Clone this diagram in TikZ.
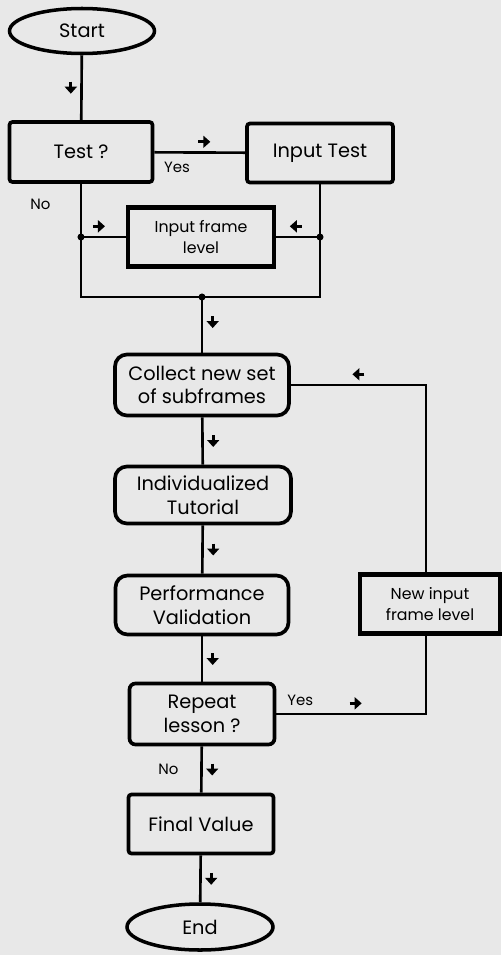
\documentclass[tikz,border=0pt]{standalone}
\usepackage{fontspec}
\setmainfont{Poppins}
\usepackage{tikz}
\usetikzlibrary{shapes.geometric,arrows.meta,calc}

\begin{document}
\begin{tikzpicture}[
  x=0.2mm, y=-0.2mm,
  line width=1.5pt,
  every node/.style={align=center, font=\fontsize{11}{13.5}\selectfont},
  term/.style={draw, ellipse, line width=2pt, inner sep=0pt, minimum width=29mm, minimum height=9mm},
  stepbox/.style={draw, line width=2.1pt, rounded corners=#1, minimum width=29mm, minimum height=12mm},
  stepbox/.default=0.6mm,
  inbox/.style={draw, line width=2.3pt, minimum width=28mm, minimum height=11.8mm, font=\fontsize{9}{11.5}\selectfont},
  amark/.style={inner sep=0pt, minimum size=3.4mm,
    path picture={\draw[line width=1.7pt, -{Triangle[length=1.4mm, width=2.4mm]}]
      ($(path picture bounding box.center)-(#1)$) -- ($(path picture bounding box.center)+(#1)$);}},
  answer/.style={font=\fontsize{8.5}{10}\selectfont, inner sep=1pt},
  junction/.style={circle, fill, inner sep=0pt, minimum size=4pt}
  ]
\fill[black!9] (0,0) rectangle (501,955);
\useasboundingbox (0,0) rectangle (501,955);
\def\loopx{426}
\def\bary{297}
\def\dn{0,6}
\def\rt{6,0}
\def\lf{-6,0}
\node[term] (start) at (82,31) {Start};                                            % top
\node[stepbox, minimum width=28.6mm] (test) at (81,152) {Test ?};
\node[stepbox, minimum width=29.2mm, minimum height=11.8mm] (inputtest) at (320,153) {Input Test};
\node[inbox, minimum width=29.2mm] (frame) at (201,237) {Input frame\\level};
\node[stepbox=2.4mm, minimum width=34.8mm, minimum height=12.2mm] (collect) at (202,385) {Collect new set\\of subframes};
\node[stepbox=2.4mm, minimum width=35.2mm, minimum height=11.4mm] (indiv) at (203,495) {Individualized\\Tutorial};
\node[stepbox=2.4mm, minimum width=34.6mm, minimum height=11.8mm] (perf) at (202,605) {Performance\\Validation};
\node[stepbox=1.2mm, minimum height=12.2mm] (repeat) at (202,714) {Repeat\\lesson ?};
\node[stepbox, minimum height=11.8mm] (final) at (201,824) {Final Value};
\node[term, minimum width=29.2mm, minimum height=9.2mm] (end) at (200,927) {End};   % bottom
\node[inbox] (newin) at (430,604) {New input\\frame level};                     % loop box
\coordinate (lb) at (test.south |- 0,\bary);
\coordinate (rb) at (inputtest.south |- 0,\bary);
\coordinate (loop) at (\loopx,\bary);
% test part
\draw (start) -- node[left=0.5pt, amark=\dn]{} (test);
\draw (test) -- node[pos=.25, below=3.5pt, answer]{Yes} node[pos=.55, above=0.5pt, amark=\rt]{} (inputtest);
\draw (test.south) -- node[pos=.18, left=5.5mm, answer]{No} (lb) -- (rb) -- (inputtest.south);
\draw (test.south |- frame.west) -- node[pos=.4, above=0.5pt, amark=\rt]{} (frame.west);
\draw (inputtest.south |- frame.east) -- node[pos=.55, above=0.5pt, amark=\lf]{} (frame.east);
\node[junction] at (test.south |- frame.west) {};
\node[junction] at (inputtest.south |- frame.east) {};
\node[junction] at (collect.north |- lb) {};
\draw (collect.north |- lb) -- node[pos=.45, right=0.5pt, amark=\dn]{} (collect.north);
% main column
\draw (collect) -- node[right=0.5pt, amark=\dn]{} (indiv);
\draw (indiv) -- node[right=0.5pt, amark=\dn]{} (perf);
\draw (perf) -- node[right=0.5pt, amark=\dn]{} (repeat);
\draw (repeat) -- node[left=4mm, answer]{No} node[right=0.5pt, amark=\dn]{} (final);
\draw (final) -- node[right=0.5pt, amark=\dn]{} (end);
% repeat loop
\draw (repeat.east) -- node[pos=.16, above=3pt, answer]{Yes} node[pos=.53, above=0.5pt, amark=\rt]{} (repeat.east -| loop) -- (newin.south -| loop);
\draw (newin.north -| loop) -- (collect.east -| loop) -- node[above=0.5pt, amark=\lf]{} (collect.east);
\end{tikzpicture}
\end{document}
